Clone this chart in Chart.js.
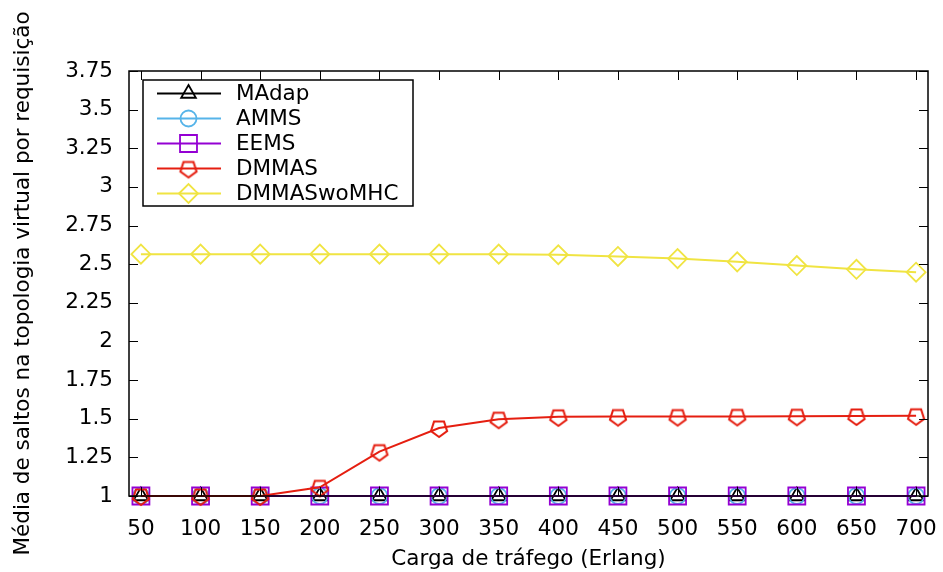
<!DOCTYPE html>
<html>
<head>
<meta charset="utf-8">
<script src="https://cdn.jsdelivr.net/npm/chart.js@4/dist/chart.umd.min.js"></script>
<style>
  html, body { margin: 0; padding: 0; background: #fff; }
  #wrap { width: 943px; height: 572px; }
</style>
</head>
<body>
<div id="wrap"><canvas id="hops" width="943" height="572"></canvas></div>
<script>
// traffic load (Erlang)
const loads = [50, 100, 150, 200, 250, 300, 350, 400, 450, 500, 550, 600, 650, 700];

const madap = [1, 1, 1, 1, 1, 1, 1, 1, 1, 1, 1, 1, 1, 1];
const amms = [1, 1, 1, 1, 1, 1, 1, 1, 1, 1, 1, 1, 1, 1];
const eems = [1, 1, 1, 1, 1, 1, 1, 1, 1, 1, 1, 1, 1, 1];
const dmmas = [1, 1, 1, 1.056, 1.287, 1.44, 1.497, 1.512, 1.514, 1.514, 1.515, 1.516, 1.518, 1.519];
const dmmasWoMhc = [2.565, 2.565, 2.565, 2.565, 2.565, 2.565, 2.565, 2.561, 2.55, 2.536, 2.515, 2.491, 2.467, 2.448];

const yTicks = [1, 1.25, 1.5, 1.75, 2, 2.25, 2.5, 2.75, 3, 3.25, 3.5, 3.75];

const FONT = 'DejaVu Sans';
const FSIZE = 21.5;

// inverted pentagon marker (gnuplot pt 14 style)
function pentagon(color) {
    const c = document.createElement('canvas');
    c.width = 22; c.height = 22;
    const g = c.getContext('2d');
    g.strokeStyle = color;
    g.lineWidth = 2;
    g.beginPath();
    for (let i = 0; i < 5; i++) {
        const a = Math.PI / 2 + i * 2 * Math.PI / 5;
        const px = 11 + 8.5 * Math.cos(a);
        const py = 11.5 + 8.5 * Math.sin(a);
        if (i === 0) g.moveTo(px, py); else g.lineTo(px, py);
    }
    g.closePath();
    g.stroke();
    return c;
}

const series = [
    { label: 'MAdap', values: madap, color: '#000000', style: 'triangle', radius: 8.5 },
    { label: 'AMMS', values: amms, color: '#56b4e9', style: 'circle', radius: 8 },
    { label: 'EEMS', values: eems, color: '#9400d3', style: 'rect', radius: 12 },
    { label: 'DMMAS', values: dmmas, color: '#e51e10', style: pentagon('#e51e10'), radius: 9 },
    { label: 'DMMASwoMHC', values: dmmasWoMhc, color: '#f0e442', style: 'rectRot', radius: 9.5 },
];

const datasets = series.map((s, i) => ({
    label: s.label,
    data: loads.map((x, j) => ({ x: x, y: s.values[j] })),
    borderColor: s.color,
    backgroundColor: s.color,
    borderWidth: 2,
    pointStyle: s.style,
    pointRadius: s.radius,
    pointHoverRadius: s.radius,
    pointBorderColor: s.color,
    pointBackgroundColor: 'rgba(0,0,0,0)',
    pointBorderWidth: 1.8,
    tension: 0,
    clip: false,
    order: series.length - i, // later series on top, like gnuplot
}));

// frame, mirrored inward ticks and the boxed key
const framePlugin = {
    id: 'frame',
    afterDatasetsDraw(chart) {
        const ctx = chart.ctx;
        const a = chart.chartArea;
        const xs = chart.scales.x, ys = chart.scales.y;
        const tl = 9;
        ctx.save();
        ctx.strokeStyle = '#000';
        ctx.lineWidth = 1;
        ctx.beginPath();
        loads.forEach(v => {
            const px = Math.round(xs.getPixelForValue(v)) + 0.5;
            ctx.moveTo(px, a.bottom); ctx.lineTo(px, a.bottom - tl);
            ctx.moveTo(px, a.top); ctx.lineTo(px, a.top + tl);
        });
        yTicks.forEach(v => {
            const py = Math.round(ys.getPixelForValue(v)) + 0.5;
            ctx.moveTo(a.left, py); ctx.lineTo(a.left + tl, py);
            ctx.moveTo(a.right, py); ctx.lineTo(a.right - tl, py);
        });
        ctx.stroke();
        ctx.lineWidth = 1.5;
        ctx.strokeRect(a.left, a.top, a.right - a.left, a.bottom - a.top);

        // key
        const kx = 143, ky = 80, kw = 270, kh = 126;
        ctx.fillStyle = '#fff';
        ctx.fillRect(kx, ky, kw, kh);
        ctx.strokeRect(kx, ky, kw, kh);
        ctx.font = FSIZE + 'px "' + FONT + '"';
        ctx.textBaseline = 'middle';
        series.forEach((s, i) => {
            const cy = 93.5 + i * 25;
            ctx.strokeStyle = s.color;
            ctx.lineWidth = 2;
            ctx.beginPath();
            ctx.moveTo(157, cy); ctx.lineTo(221, cy);
            ctx.stroke();
            ctx.fillStyle = 'rgba(0,0,0,0)';
            ctx.lineWidth = 1.8;
            Chart.helpers.drawPoint(ctx, { pointStyle: s.style, radius: s.radius, rotation: 0, borderWidth: 1.8 }, 188.5, cy);
            ctx.fillStyle = '#000';
            ctx.fillText(s.label, 236, cy + 1);
        });
        ctx.restore();
    }
};

new Chart(document.getElementById('hops'), {
    type: 'line',
    data: { datasets: datasets },
    options: {
        responsive: false,
        animation: false,
        layout: { padding: { top: 71, right: 15, left: 0, bottom: 0 } },
        plugins: { legend: { display: false }, tooltip: { enabled: false } },
        scales: {
            x: {
                type: 'linear',
                min: 40,
                max: 710,
                afterBuildTicks: (scale) => { scale.ticks = loads.map(v => ({ value: v })); },
                afterFit: (scale) => { scale.height = 76; scale.paddingLeft = 0; scale.paddingRight = 0; },
                grid: { display: false, drawTicks: false },
                border: { display: false },
                ticks: { color: '#000', padding: 21, maxRotation: 0, autoSkip: false, font: { family: FONT, size: FSIZE } },
                title: { display: true, text: 'Carga de tráfego (Erlang)', color: '#000', font: { family: FONT, size: FSIZE }, padding: { top: 4, bottom: 0 } },
            },
            y: {
                min: 1,
                max: 3.75,
                afterBuildTicks: (scale) => { scale.ticks = yTicks.map(v => ({ value: v })); },
                afterFit: (scale) => { scale.width = 129; scale.paddingTop = 0; scale.paddingBottom = 0; },
                grid: { display: false, drawTicks: false },
                border: { display: false },
                ticks: { color: '#000', padding: 16, font: { family: FONT, size: FSIZE }, callback: (v) => String(v) },
                title: { display: true, text: 'Média de saltos na topologia virtual por requisição', color: '#000', font: { family: FONT, size: FSIZE }, padding: { top: 11, bottom: 0 } },
            },
        },
    },
    plugins: [framePlugin],
});
</script>
</body>
</html>
